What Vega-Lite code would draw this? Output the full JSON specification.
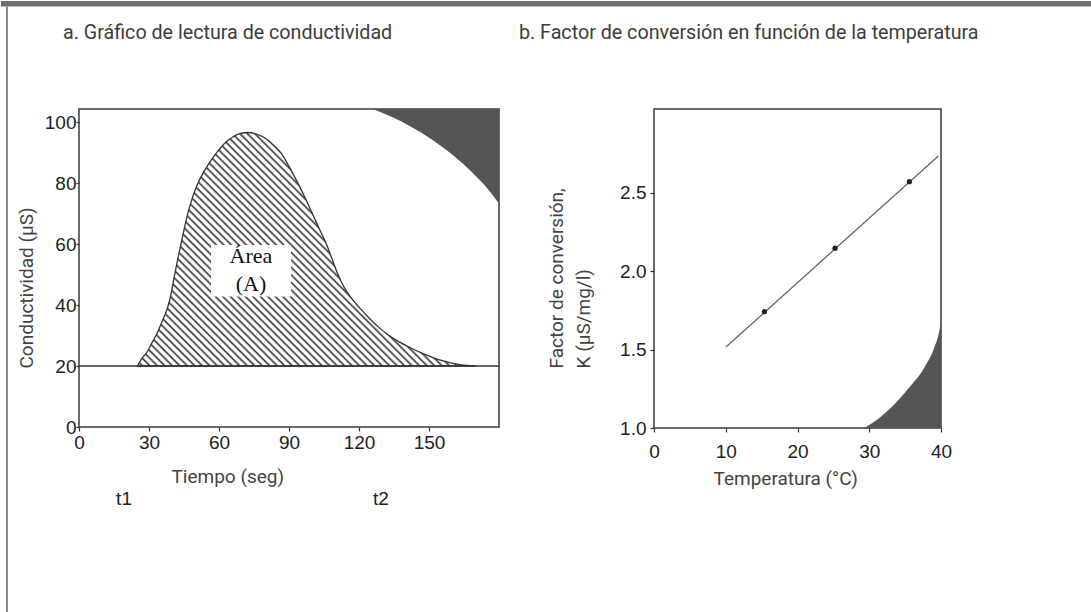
{
  "$schema": "https://vega.github.io/schema/vega-lite/v6.json",
  "padding": 0,
  "autosize": {"type": "pad"},
  "background": "white",
  "bounds": "flush",
  "spacing": 155,
  "datasets": {
    "curve": [
      {"t": 25, "v": 20}, {"t": 27, "v": 22.5}, {"t": 29.5, "v": 25}, {"t": 31.2, "v": 27.5}, {"t": 33, "v": 30},
      {"t": 35.8, "v": 35}, {"t": 38.3, "v": 40}, {"t": 39.8, "v": 45}, {"t": 41, "v": 50}, {"t": 42.3, "v": 55},
      {"t": 43.7, "v": 60}, {"t": 45.1, "v": 65}, {"t": 46.6, "v": 70}, {"t": 48.5, "v": 75}, {"t": 51, "v": 80},
      {"t": 54.5, "v": 85}, {"t": 59, "v": 90}, {"t": 63.5, "v": 93.8}, {"t": 68, "v": 96}, {"t": 72, "v": 96.6},
      {"t": 76, "v": 96.1}, {"t": 80, "v": 94.6}, {"t": 83.5, "v": 92.3}, {"t": 86.6, "v": 89.8}, {"t": 90, "v": 85.5},
      {"t": 93.8, "v": 80}, {"t": 97, "v": 75}, {"t": 100, "v": 70}, {"t": 103, "v": 65}, {"t": 106, "v": 60},
      {"t": 108.5, "v": 55}, {"t": 111, "v": 50}, {"t": 113.5, "v": 46}, {"t": 116.5, "v": 42.5}, {"t": 120, "v": 39.3},
      {"t": 124, "v": 36}, {"t": 128, "v": 33}, {"t": 132, "v": 30.5}, {"t": 137, "v": 28}, {"t": 142, "v": 26},
      {"t": 147, "v": 24.2}, {"t": 152, "v": 22.7}, {"t": 157, "v": 21.5}, {"t": 162, "v": 20.6}, {"t": 166, "v": 20.2},
      {"t": 170, "v": 20}
    ],
    "corner1": [
      {"t": 126.0, "v": 104.3}, {"t": 133.7, "v": 101.8}, {"t": 142.3, "v": 98.5}, {"t": 150.9, "v": 94.5},
      {"t": 159.4, "v": 89.7}, {"t": 168.0, "v": 83.9}, {"t": 174.4, "v": 78.8}, {"t": 180, "v": 73.3}
    ],
    "corner2": [
      {"temp": 29.3, "k": 1.0}, {"temp": 29.78, "k": 1.013}, {"temp": 33.03, "k": 1.129}, {"temp": 35.36, "k": 1.247},
      {"temp": 37.67, "k": 1.384}, {"temp": 39.07, "k": 1.512}, {"temp": 39.77, "k": 1.618}, {"temp": 40, "k": 1.68}
    ],
    "kline": [{"temp": 10.03, "k": 1.516}, {"temp": 39.63, "k": 2.733}],
    "kpts": [{"temp": 15.38, "k": 1.741}, {"temp": 25.23, "k": 2.145}, {"temp": 35.59, "k": 2.569}],
    "tlabels": [{"label": "t1", "t": 19.3}, {"label": "t2", "t": 129.4}]
  },
  "config": {
    "view": {"stroke": "#3a3a3a", "strokeWidth": 1.5},
    "axis": {
      "domain": false, "grid": false,
      "labelFont": "Liberation Sans", "labelFontSize": 19, "labelColor": "#222",
      "labelFlush": false, "labelOverlap": false,
      "tickColor": "#333", "tickWidth": 1.2,
      "titleFont": "Roboto", "titleFontSize": 19, "titleColor": "#444", "titleFontWeight": "normal"
    }
  },
  "hconcat": [
    {
      "width": 420,
      "height": 318,
      "layer": [
        {
          "data": {"values": [{}]},
          "mark": {"type": "rect", "color": "#6d6e71"},
          "encoding": {
            "x": {"datum": -33.43, "type": "quantitative"},
            "x2": {"datum": 434.15},
            "y": {"datum": 139.73, "type": "quantitative"},
            "y2": {"datum": 137.92}
          }
        },
        {
          "data": {"values": [{}]},
          "mark": {"type": "rect", "color": "#8a8a8a"},
          "encoding": {
            "x": {"datum": -31.29, "type": "quantitative"},
            "x2": {"datum": -30.43},
            "y": {"datum": 137.92, "type": "quantitative"},
            "y2": {"datum": -61.01}
          }
        },
        {
          "data": {"values": [{}]},
          "mark": {"type": "text", "align": "left", "baseline": "alphabetic", "font": "Roboto", "fontSize": 19.7, "color": "#3d3d3d"},
          "encoding": {
            "x": {"datum": -6.86, "type": "quantitative"},
            "y": {"datum": 127.26, "type": "quantitative"},
            "text": {"value": "a. Gráfico de lectura de conductividad"}
          }
        },
        {
          "data": {"name": "corner1"},
          "mark": {"type": "area", "color": "#555555", "interpolate": "monotone"},
          "encoding": {
            "x": {"field": "t", "type": "quantitative"},
            "y": {"field": "v", "type": "quantitative"},
            "y2": {"datum": 104.3}
          }
        },
        {
          "data": {"name": "curve"},
          "mark": {
            "type": "area",
            "interpolate": "monotone",
            "stroke": "#333333",
            "strokeWidth": 1.3,
            "fill": {
              "gradient": "linear", "x1": 0, "y1": 1, "x2": 1, "y2": 0.31,
              "stops": [
                {"offset": 0, "color": "#ffffff"}, {"offset": 0.006, "color": "#ffffff"}, {"offset": 0.0105, "color": "#333333"},
                {"offset": 0.015, "color": "#ffffff"}, {"offset": 0.021, "color": "#ffffff"}, {"offset": 0.0255, "color": "#333333"},
                {"offset": 0.03, "color": "#ffffff"}, {"offset": 0.036, "color": "#ffffff"}, {"offset": 0.0405, "color": "#333333"},
                {"offset": 0.045, "color": "#ffffff"}, {"offset": 0.051, "color": "#ffffff"}, {"offset": 0.0555, "color": "#333333"},
                {"offset": 0.06, "color": "#ffffff"}, {"offset": 0.066, "color": "#ffffff"}, {"offset": 0.0705, "color": "#333333"},
                {"offset": 0.075, "color": "#ffffff"}, {"offset": 0.081, "color": "#ffffff"}, {"offset": 0.0855, "color": "#333333"},
                {"offset": 0.09, "color": "#ffffff"}, {"offset": 0.096, "color": "#ffffff"}, {"offset": 0.1005, "color": "#333333"},
                {"offset": 0.105, "color": "#ffffff"}, {"offset": 0.111, "color": "#ffffff"}, {"offset": 0.1155, "color": "#333333"},
                {"offset": 0.12, "color": "#ffffff"}, {"offset": 0.126, "color": "#ffffff"}, {"offset": 0.1305, "color": "#333333"},
                {"offset": 0.135, "color": "#ffffff"}, {"offset": 0.141, "color": "#ffffff"}, {"offset": 0.1455, "color": "#333333"},
                {"offset": 0.15, "color": "#ffffff"}, {"offset": 0.156, "color": "#ffffff"}, {"offset": 0.1605, "color": "#333333"},
                {"offset": 0.165, "color": "#ffffff"}, {"offset": 0.171, "color": "#ffffff"}, {"offset": 0.1755, "color": "#333333"},
                {"offset": 0.18, "color": "#ffffff"}, {"offset": 0.186, "color": "#ffffff"}, {"offset": 0.1905, "color": "#333333"},
                {"offset": 0.195, "color": "#ffffff"}, {"offset": 0.201, "color": "#ffffff"}, {"offset": 0.2055, "color": "#333333"},
                {"offset": 0.21, "color": "#ffffff"}, {"offset": 0.216, "color": "#ffffff"}, {"offset": 0.2205, "color": "#333333"},
                {"offset": 0.225, "color": "#ffffff"}, {"offset": 0.231, "color": "#ffffff"}, {"offset": 0.2355, "color": "#333333"},
                {"offset": 0.24, "color": "#ffffff"}, {"offset": 0.246, "color": "#ffffff"}, {"offset": 0.2505, "color": "#333333"},
                {"offset": 0.255, "color": "#ffffff"}, {"offset": 0.261, "color": "#ffffff"}, {"offset": 0.2655, "color": "#333333"},
                {"offset": 0.27, "color": "#ffffff"}, {"offset": 0.276, "color": "#ffffff"}, {"offset": 0.2805, "color": "#333333"},
                {"offset": 0.285, "color": "#ffffff"}, {"offset": 0.291, "color": "#ffffff"}, {"offset": 0.2955, "color": "#333333"},
                {"offset": 0.3, "color": "#ffffff"}, {"offset": 0.306, "color": "#ffffff"}, {"offset": 0.3105, "color": "#333333"},
                {"offset": 0.315, "color": "#ffffff"}, {"offset": 0.321, "color": "#ffffff"}, {"offset": 0.3255, "color": "#333333"},
                {"offset": 0.33, "color": "#ffffff"}, {"offset": 0.336, "color": "#ffffff"}, {"offset": 0.3405, "color": "#333333"},
                {"offset": 0.345, "color": "#ffffff"}, {"offset": 0.351, "color": "#ffffff"}, {"offset": 0.3555, "color": "#333333"},
                {"offset": 0.36, "color": "#ffffff"}, {"offset": 0.366, "color": "#ffffff"}, {"offset": 0.3705, "color": "#333333"},
                {"offset": 0.375, "color": "#ffffff"}, {"offset": 0.381, "color": "#ffffff"}, {"offset": 0.3855, "color": "#333333"},
                {"offset": 0.39, "color": "#ffffff"}, {"offset": 0.396, "color": "#ffffff"}, {"offset": 0.4005, "color": "#333333"},
                {"offset": 0.405, "color": "#ffffff"}, {"offset": 0.411, "color": "#ffffff"}, {"offset": 0.4155, "color": "#333333"},
                {"offset": 0.42, "color": "#ffffff"}, {"offset": 0.426, "color": "#ffffff"}, {"offset": 0.4305, "color": "#333333"},
                {"offset": 0.435, "color": "#ffffff"}, {"offset": 0.441, "color": "#ffffff"}, {"offset": 0.4455, "color": "#333333"},
                {"offset": 0.45, "color": "#ffffff"}, {"offset": 0.456, "color": "#ffffff"}, {"offset": 0.4605, "color": "#333333"},
                {"offset": 0.465, "color": "#ffffff"}, {"offset": 0.471, "color": "#ffffff"}, {"offset": 0.4755, "color": "#333333"},
                {"offset": 0.48, "color": "#ffffff"}, {"offset": 0.486, "color": "#ffffff"}, {"offset": 0.4905, "color": "#333333"},
                {"offset": 0.495, "color": "#ffffff"}, {"offset": 0.501, "color": "#ffffff"}, {"offset": 0.5055, "color": "#333333"},
                {"offset": 0.51, "color": "#ffffff"}, {"offset": 0.516, "color": "#ffffff"}, {"offset": 0.5205, "color": "#333333"},
                {"offset": 0.525, "color": "#ffffff"}, {"offset": 0.531, "color": "#ffffff"}, {"offset": 0.5355, "color": "#333333"},
                {"offset": 0.54, "color": "#ffffff"}, {"offset": 0.546, "color": "#ffffff"}, {"offset": 0.5505, "color": "#333333"},
                {"offset": 0.555, "color": "#ffffff"}, {"offset": 0.561, "color": "#ffffff"}, {"offset": 0.5655, "color": "#333333"},
                {"offset": 0.57, "color": "#ffffff"}, {"offset": 0.576, "color": "#ffffff"}, {"offset": 0.5805, "color": "#333333"},
                {"offset": 0.585, "color": "#ffffff"}, {"offset": 0.591, "color": "#ffffff"}, {"offset": 0.5955, "color": "#333333"},
                {"offset": 0.6, "color": "#ffffff"}, {"offset": 0.606, "color": "#ffffff"}, {"offset": 0.6105, "color": "#333333"},
                {"offset": 0.615, "color": "#ffffff"}, {"offset": 0.621, "color": "#ffffff"}, {"offset": 0.6255, "color": "#333333"},
                {"offset": 0.63, "color": "#ffffff"}, {"offset": 0.636, "color": "#ffffff"}, {"offset": 0.6405, "color": "#333333"},
                {"offset": 0.645, "color": "#ffffff"}, {"offset": 0.651, "color": "#ffffff"}, {"offset": 0.6555, "color": "#333333"},
                {"offset": 0.66, "color": "#ffffff"}, {"offset": 0.666, "color": "#ffffff"}, {"offset": 0.6705, "color": "#333333"},
                {"offset": 0.675, "color": "#ffffff"}, {"offset": 0.681, "color": "#ffffff"}, {"offset": 0.6855, "color": "#333333"},
                {"offset": 0.69, "color": "#ffffff"}, {"offset": 0.696, "color": "#ffffff"}, {"offset": 0.7005, "color": "#333333"},
                {"offset": 0.705, "color": "#ffffff"}, {"offset": 0.711, "color": "#ffffff"}, {"offset": 0.7155, "color": "#333333"},
                {"offset": 0.72, "color": "#ffffff"}, {"offset": 0.726, "color": "#ffffff"}, {"offset": 0.7305, "color": "#333333"},
                {"offset": 0.735, "color": "#ffffff"}, {"offset": 0.741, "color": "#ffffff"}, {"offset": 0.7455, "color": "#333333"},
                {"offset": 0.75, "color": "#ffffff"}, {"offset": 0.756, "color": "#ffffff"}, {"offset": 0.7605, "color": "#333333"},
                {"offset": 0.765, "color": "#ffffff"}, {"offset": 0.771, "color": "#ffffff"}, {"offset": 0.7755, "color": "#333333"},
                {"offset": 0.78, "color": "#ffffff"}, {"offset": 0.786, "color": "#ffffff"}, {"offset": 0.7905, "color": "#333333"},
                {"offset": 0.795, "color": "#ffffff"}, {"offset": 1, "color": "#ffffff"}
              ]
            }
          },
          "encoding": {
            "x": {
              "field": "t", "type": "quantitative",
              "scale": {"domain": [0, 180], "nice": false, "zero": false},
              "axis": {
                "values": [0, 30, 60, 90, 120, 150],
                "title": "Tiempo (seg)",
                "titleX": 92, "titleY": 49, "titleAlign": "left", "titleBaseline": "middle",
                "tickSize": 4, "labelPadding": 11, "labelBaseline": "middle"
              }
            },
            "y": {
              "field": "v", "type": "quantitative",
              "scale": {"domain": [0, 104.3], "nice": false, "zero": false},
              "axis": {
                "values": [0, 20, 40, 60, 80, 100],
                "title": "Conductividad (µS)",
                "titleX": -53, "titleY": 259, "titleAngle": -90, "titleAlign": "left", "titleBaseline": "middle",
                "tickSize": 3, "labelPadding": 0
              }
            },
            "y2": {"datum": 20}
          }
        },
        {
          "data": {"values": [{}]},
          "mark": {"type": "rule", "color": "#333333", "strokeWidth": 1.5},
          "encoding": {
            "y": {"datum": 20, "type": "quantitative"}
          }
        },
        {
          "data": {"values": [{}]},
          "mark": {"type": "rect", "color": "#ffffff"},
          "encoding": {
            "x": {"datum": 56.6, "type": "quantitative"},
            "x2": {"datum": 90.9},
            "y": {"datum": 59.7, "type": "quantitative"},
            "y2": {"datum": 42.8}
          }
        },
        {
          "data": {"values": [{}]},
          "mark": {"type": "text", "font": "Liberation Serif", "fontSize": 22, "lineHeight": 28, "baseline": "alphabetic", "align": "center", "color": "#111111"},
          "encoding": {
            "x": {"datum": 73.7, "type": "quantitative"},
            "y": {"datum": 53.8, "type": "quantitative"},
            "text": {"value": ["Área", "(A)"]}
          }
        },
        {
          "data": {"name": "tlabels"},
          "mark": {"type": "text", "font": "Liberation Sans", "fontSize": 19, "baseline": "middle", "align": "center", "color": "#222222"},
          "encoding": {
            "x": {"field": "t", "type": "quantitative"},
            "y": {"datum": -23.6, "type": "quantitative"},
            "text": {"field": "label"}
          }
        }
      ]
    },
    {
      "width": 287,
      "height": 319,
      "layer": [
        {
          "data": {"values": [{}]},
          "mark": {"type": "text", "align": "left", "baseline": "alphabetic", "font": "Roboto", "fontSize": 19.7, "color": "#3d3d3d"},
          "encoding": {
            "x": {"datum": -18.82, "type": "quantitative"},
            "y": {"datum": 3.478, "type": "quantitative"},
            "text": {"value": "b. Factor de conversión en función de la temperatura"}
          }
        },
        {
          "data": {"name": "corner2"},
          "mark": {"type": "area", "color": "#555555", "interpolate": "monotone"},
          "encoding": {
            "x": {"field": "temp", "type": "quantitative"},
            "y": {"field": "k", "type": "quantitative"},
            "y2": {"datum": 1.0}
          }
        },
        {
          "data": {"name": "kline"},
          "mark": {"type": "line", "color": "#666666", "strokeWidth": 1.3},
          "encoding": {
            "x": {
              "field": "temp", "type": "quantitative",
              "scale": {"domain": [0, 40], "nice": false, "zero": false},
              "axis": {
                "values": [0, 10, 20, 30, 40],
                "title": "Temperatura (°C)",
                "titleX": 59, "titleY": 50, "titleAlign": "left", "titleBaseline": "middle",
                "tickSize": 4, "labelPadding": 19, "labelBaseline": "middle"
              }
            },
            "y": {
              "field": "k", "type": "quantitative",
              "scale": {"domain": [1, 3.032], "nice": false, "zero": false},
              "axis": {
                "values": [1, 1.5, 2, 2.5],
                "format": ".1f",
                "title": ["Factor de conversión,", "K (µS/mg/l)"],
                "titleX": -98, "titleY": 259, "titleAngle": -90, "titleAlign": "left", "titleBaseline": "middle",
                "titleLineHeight": 27,
                "tickSize": 4, "labelPadding": 4
              }
            }
          }
        },
        {
          "data": {"name": "kpts"},
          "mark": {"type": "point", "filled": true, "color": "#222222", "size": 28, "opacity": 1},
          "encoding": {
            "x": {"field": "temp", "type": "quantitative"},
            "y": {"field": "k", "type": "quantitative"}
          }
        }
      ]
    }
  ]
}
